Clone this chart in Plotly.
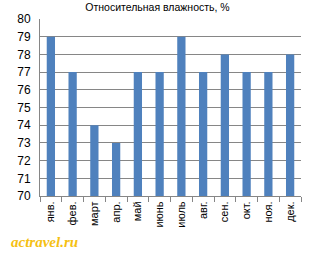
import plotly.graph_objects as go

months = ["янв.", "фев.", "март", "апр.", "май", "июнь", "июль", "авг.", "сен.", "окт.", "ноя.", "дек."]
humidity = [79, 77, 74, 73, 77, 77, 79, 77, 78, 77, 77, 78]
y_ticks = list(range(70, 81))

fig = go.Figure(go.Bar(x=months, y=humidity, marker=dict(color="#4F81BD", line=dict(width=0)), width=0.38))

fig.update_layout(
    width=315, height=254,
    margin=dict(l=40, r=14, t=14, b=58),
    paper_bgcolor="white", plot_bgcolor="white",
    showlegend=False,
    font=dict(family="Liberation Sans, Arial", color="black"),
    title=dict(text="Относительная влажность, %", x=0.5, xanchor="center", y=0.985, yanchor="top",
               font=dict(size=10.5, color="black")),
    annotations=[dict(text="<b><i>actravel.ru</i></b>", x=-0.118, y=-0.258, xref="paper", yref="paper",
                      xanchor="left", yanchor="middle", showarrow=False,
                      font=dict(family="Liberation Serif", size=15, color="#F5C013"))],
)

fig.update_yaxes(range=[70, 80], tickvals=y_ticks, showgrid=True, gridcolor="#868686", gridwidth=1,
                 showline=True, linecolor="#868686", linewidth=1, ticks="", tickfont=dict(size=12),
                 zeroline=False, ticklabelstandoff=6)
fig.update_xaxes(type="category", tickson="boundaries", ticks="outside", ticklen=5, tickcolor="#868686",
                 showline=True, linecolor="#868686", tickangle=-90, tickfont=dict(size=11), showgrid=False)

fig.write_html("out.html")
